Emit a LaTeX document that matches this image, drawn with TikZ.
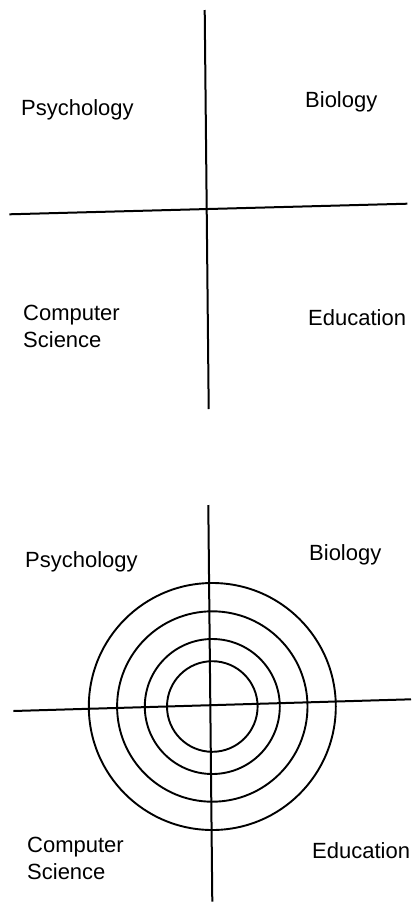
\documentclass[tikz,border=0pt]{standalone}
\usepackage{fontspec}
\setmainfont{Liberation Sans}
\begin{document}
\begin{tikzpicture}[x=1pt,y=-1pt,
  axis/.style={line width=2pt,black},
  ring/.style={line width=1.9pt,black},
  lbl/.style={anchor=base west,inner sep=0pt,font=\fontsize{22}{27}\selectfont,align=left}]
\useasboundingbox (0,0) rectangle (412,903);
% top diagram
\coordinate (t1) at (204.7,10);
\coordinate (t2) at (208.7,409);
\coordinate (t3) at (9.3,214.3);
\coordinate (t4) at (407.3,203.7);
\draw[axis] (t1) -- (t2);
\draw[axis] (t3) -- (t4);
\node[lbl] (tpsy) at (21,115) {Psychology};
\node[lbl] (tbio) at (305,107) {Biology};
\node[lbl] (tcs) at (23,347) {Computer\\Science};
\node[lbl] (tedu) at (308,325) {Education};
% bottom diagram
\coordinate (b1) at (208.3,505);
\coordinate (b2) at (212.3,901.7);
\coordinate (b3) at (13.3,711);
\coordinate (b4) at (411,699.3);
\draw[axis] (b1) -- (b2);
\draw[axis] (b3) -- (b4);
\coordinate (c) at (212.3,706.5);
\draw[ring] (c) circle (123.5);
\draw[ring] (c) circle (95.2);
\draw[ring] (c) circle (67.5);
\draw[ring] (c) circle (45.3);
\node[lbl] (bpsy) at (25,567) {Psychology};
\node[lbl] (bbio) at (309,560) {Biology};
\node[lbl] (bcs) at (27,879) {Computer\\Science};
\node[lbl] (bedu) at (312,858) {Education};
\end{tikzpicture}
\end{document}
